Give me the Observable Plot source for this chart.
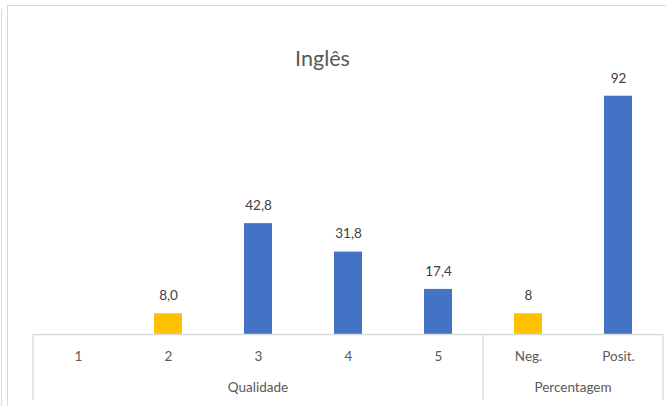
<!DOCTYPE html>
<html><head><meta charset="utf-8">
<script src="https://cdn.jsdelivr.net/npm/d3@7"></script>
<script src="https://cdn.jsdelivr.net/npm/@observablehq/plot@0.6"></script>
<style>
html,body{margin:0;padding:0;background:#fff;}
body{width:666px;height:406px;overflow:hidden;position:relative;font-family:Lato,"Open Sans",sans-serif;}
#sheetline{position:absolute;left:1px;top:9px;width:0;height:420px;border-left:1.5px solid #d9d9d9;}
#frame{position:absolute;left:7px;top:5px;width:720px;height:520px;border:1.5px solid #d9d9d9;box-sizing:border-box;}
#title{position:absolute;left:0;top:45px;width:645px;text-align:center;font-size:21.5px;color:#595959;line-height:26px;}
#chart{position:absolute;left:0;top:0;}
</style></head><body>
<div id="sheetline"></div><div id="frame"></div>
<div id="chart"></div>
<div id="title"></div>
<script>
const title = "Inglês";
const categories = ["1","2","3","4","5","Neg.","Posit."];
const groups = ["Qualidade","Qualidade","Qualidade","Qualidade","Qualidade","Percentagem","Percentagem"];
const values = [null, 8.0, 42.8, 31.8, 17.4, 8, 92];
const tone = ["neg","neg","pos","pos","pos","neg","pos"];
const decimals = [1,1,1,1,1,0,0];
const toneDomain = ["neg","pos"];
const toneColors = ["#FFC000","#4472C4"];

document.getElementById("title").textContent = title;

const data = categories.map((c,i)=>({
  cat:c, group:groups[i], value:values[i], tone:tone[i],
  label: values[i]==null ? "" : values[i].toFixed(decimals[i]).replace(".", ",")
}));

const chart = Plot.plot({
  width:666, height:406,
  marginLeft:33, marginRight:3, marginTop:75, marginBottom:72,
  style:{fontFamily:"Lato, 'Open Sans', sans-serif", background:"transparent", overflow:"visible"},
  x:{domain:categories, padding:0, label:null},
  y:{domain:[0,100], axis:null},
  color:{domain:toneDomain, range:toneColors},
  marks:[
    Plot.barY(data.filter(d=>d.value!=null), {x:"cat", y:"value", fill:"tone", insetLeft:31, insetRight:31}),
    Plot.text(data.filter(d=>d.value!=null), {x:"cat", y:"value", text:"label", dy:-18, fill:"#404040", fontSize:13.5}),
    Plot.ruleY([0], {stroke:"#d9d9d9", strokeWidth:1.3}),
    Plot.axisX({tickSize:0, tickPadding:17, fontSize:13.5, fill:"#595959", label:null})
  ]
});
document.getElementById("chart").appendChild(chart);

// group (multi-level) axis: separators and group labels, through Plot's scales
const xs = chart.scale("x"), ys = chart.scale("y");
const bw = xs.bandwidth;
const y0 = ys.apply(0);
const svg = d3.select(chart);
const groupNames = Array.from(new Set(groups));
const g = svg.append("g");
const bounds = [];
groupNames.forEach(name=>{
  const cats = categories.filter((c,i)=>groups[i]===name);
  const start = xs.apply(cats[0]);
  const end = xs.apply(cats[cats.length-1]) + bw;
  bounds.push(start, end);
  g.append("text").attr("x",(start+end)/2).attr("y",y0+55)
    .attr("text-anchor","middle").attr("dominant-baseline","middle")
    .attr("fill","#595959").attr("font-size",13.5).text(name);
});
Array.from(new Set(bounds.map(b=>Math.round(b*10)/10))).forEach(b=>{
  g.append("line").attr("x1",b).attr("x2",b).attr("y1",y0).attr("y2",y0+66)
    .attr("stroke","#d9d9d9").attr("stroke-width",1.3);
});
</script>
</body></html>
